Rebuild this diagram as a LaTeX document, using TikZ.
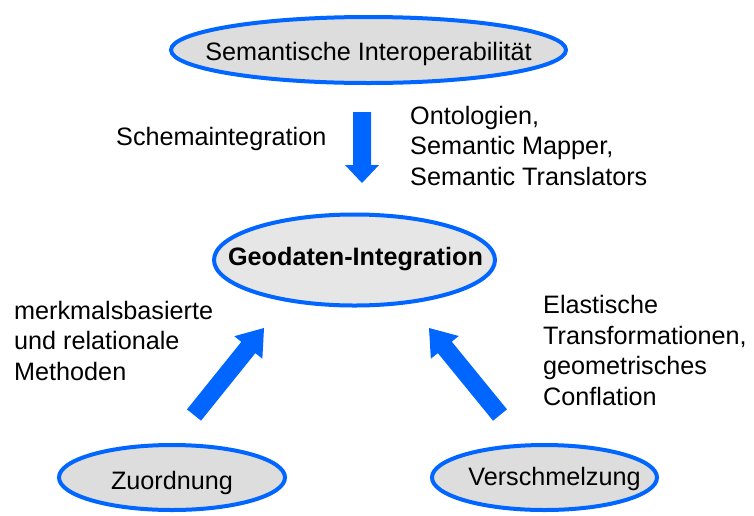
\documentclass[tikz,border=0pt]{standalone}
\usepackage{fontspec}
\setmainfont{Liberation Sans}
\usetikzlibrary{shapes.geometric,calc}
\definecolor{ublue}{RGB}{0,102,255}
\definecolor{efill}{RGB}{221,221,221}
\definecolor{efillb}{RGB}{230,230,230}
\newcommand\blockarr[5]{%
  \coordinate (bah) at ($(#2)!#5!(#1)$);
  \fill[ublue] ($(#1)!#3!90:(#2)$) -- ($(bah)!#3!90:(#2)$) -- ($(bah)!#4!90:(#2)$) -- (#2)
    -- ($(bah)!#4!-90:(#2)$) -- ($(bah)!#3!-90:(#2)$) -- ($(#1)!#3!-90:(#2)$) -- cycle;}
% text of zero size inside an ellipse: #1 = horizontal shift x2, #2 = baseline drop, #3 = text
\newcommand\ovtext[3]{\makebox[0pt]{\raisebox{#2}[0pt][0pt]{\hspace*{#1}#3}}}
\begin{document}
\begin{tikzpicture}[x=1pt,y=-1pt,
  oval/.style={ellipse, draw=ublue, line width=4pt, fill=efill, inner sep=0pt,
    font=\fontsize{25.2}{30.5}\selectfont},
  lbl/.style={anchor=base west, inner sep=0pt, align=left,
    font=\fontsize{25.2}{30.5}\selectfont}]
\useasboundingbox (0,0) rectangle (754,515);
% ellipses
\node[oval, minimum width=395pt, minimum height=66pt] (sem) at (368.5,50) {\ovtext{0pt}{-10pt}{Semantische Interoperabilität}};
\node[oval, fill=efillb, minimum width=281pt, minimum height=91pt, font=\fontsize{25.2}{30.5}\selectfont\bfseries] (geo) at (354.5,260) {\ovtext{2pt}{-5pt}{Geodaten-Integration}};
\node[oval, minimum width=226pt, minimum height=65pt] (zuo) at (172,477.5) {\ovtext{0pt}{-12pt}{Zuordnung}};
\node[oval, minimum width=225pt, minimum height=65pt] (ver) at (544.5,477.5) {\ovtext{20pt}{-8pt}{Verschmelzung}};
% block arrows
\coordinate (a1t) at (362,112);
\coordinate (a1h) at (362,183);
\coordinate (a2t) at (194,415);
\coordinate (a2h) at (264,328);
\coordinate (a3t) at (500,415);
\coordinate (a3h) at (429,328);
\blockarr{a1t}{a1h}{9pt}{17pt}{18pt}
\blockarr{a2t}{a2h}{9pt}{18pt}{25pt}
\blockarr{a3t}{a3h}{9pt}{18pt}{25pt}
% labels (anchor = baseline of last line)
\node[lbl] (l1) at (116,145) {Schemaintegration};
\node[lbl] (l2) at (410,185) {Ontologien,\\Semantic Mapper,\\Semantic Translators};
\node[lbl] (l3) at (14,380) {merkmalsbasierte\\und relationale\\Methoden};
\node[lbl] (l4) at (543,405) {Elastische\\Transformationen,\\geometrisches\\Conflation};
\end{tikzpicture}
\end{document}
